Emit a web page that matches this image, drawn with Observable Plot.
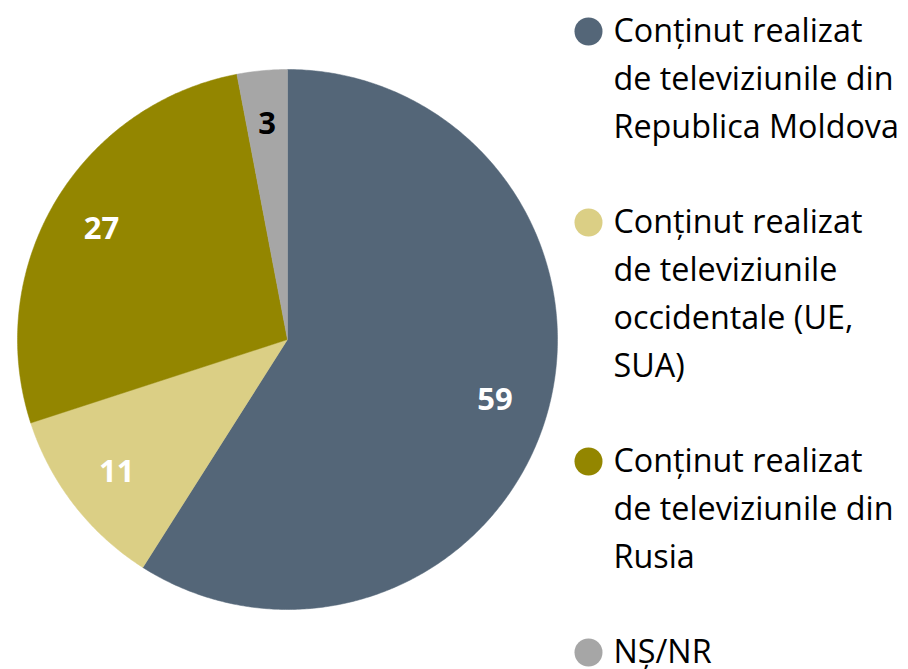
<!DOCTYPE html>
<html><head><meta charset="utf-8">
<script src="https://cdn.jsdelivr.net/npm/d3@7"></script>
<script src="https://cdn.jsdelivr.net/npm/@observablehq/plot@0.6"></script>
<style>html,body{margin:0;padding:0;background:#fff;overflow:hidden}</style>
</head><body><div id="chart"></div>
<script>
const categories = [
  "Conținut realizat de televiziunile din Republica Moldova",
  "Conținut realizat de televiziunile occidentale (UE, SUA)",
  "Conținut realizat de televiziunile din Rusia",
  "NȘ/NR"
];
const legendLabels = [
  "Conținut realizat\nde televiziunile din\nRepublica Moldova",
  "Conținut realizat\nde televiziunile\noccidentale (UE,\nSUA)",
  "Conținut realizat\nde televiziunile din\nRusia",
  "NȘ/NR"
];
const values = [59, 11, 27, 3];
const colors = ["#546678", "#dbcf85", "#938600", "#a6a6a6"];
const labelColors = ["#ffffff", "#ffffff", "#ffffff", "#000000"];

const W = 908, H = 669;
const cx = 287, cy = 339, R = 270;
const FONT = "Open Sans";

// pie geometry from data
const arcs = d3.pie().sort(null).value(d => d)(values);
const slicePts = [];
arcs.forEach((a, i) => {
  slicePts.push({k: i, x: cx, y: cy});
  const n = Math.max(2, Math.ceil((a.endAngle - a.startAngle) / (Math.PI / 360)));
  for (let j = 0; j <= n; j++) {
    const t = a.startAngle + (a.endAngle - a.startAngle) * j / n;
    slicePts.push({k: i, x: cx + R * Math.sin(t), y: cy - R * Math.cos(t)});
  }
  slicePts.push({k: i, x: cx, y: cy});
});
const labels = arcs.map((a, i) => {
  const t = (a.startAngle + a.endAngle) / 2, r = R * 0.8;
  return {k: i, x: cx + r * Math.sin(t), y: cy - r * Math.cos(t), text: String(values[i])};
});

// legend layout
const ctx = document.createElement("canvas").getContext("2d");
ctx.font = `100px "${FONT}"`;
const legFs = 100 * 249 / ctx.measureText("Conținut realizat").width;
const lh = 48, gap = 47, lx = 588, tx = 613;
let yy = 31;
const legDots = [], legLines = [];
legendLabels.forEach((lab, i) => {
  legDots.push({k: i, x: lx, y: yy});
  lab.split("\n").forEach((line, j) => legLines.push({x: tx, y: yy + j * lh, text: line}));
  yy += lab.split("\n").length * lh + gap;
});

const chart = Plot.plot({
  width: W, height: H,
  margin: 0,
  x: {domain: [0, W], range: [0, W], axis: null},
  y: {domain: [0, H], range: [0, H], axis: null},
  style: {background: "#fff", fontFamily: FONT},
  marks: [
    Plot.line(slicePts, {x: "x", y: "y", z: "k", fill: d => colors[d.k], stroke: d => colors[d.k], strokeWidth: 0.5, curve: "linear"}),
    Plot.text(labels, {x: "x", y: "y", text: "text", fill: d => labelColors[d.k], fontSize: 31, fontWeight: "bold", fontFamily: FONT}),
    Plot.dot(legDots, {x: "x", y: "y", r: 14, fill: d => colors[d.k], stroke: null}),
    Plot.text(legLines, {x: "x", y: "y", text: "text", textAnchor: "start", fontSize: legFs, fill: "#000", fontFamily: FONT})
  ]
});
document.getElementById("chart").appendChild(chart);
</script>
</body></html>
